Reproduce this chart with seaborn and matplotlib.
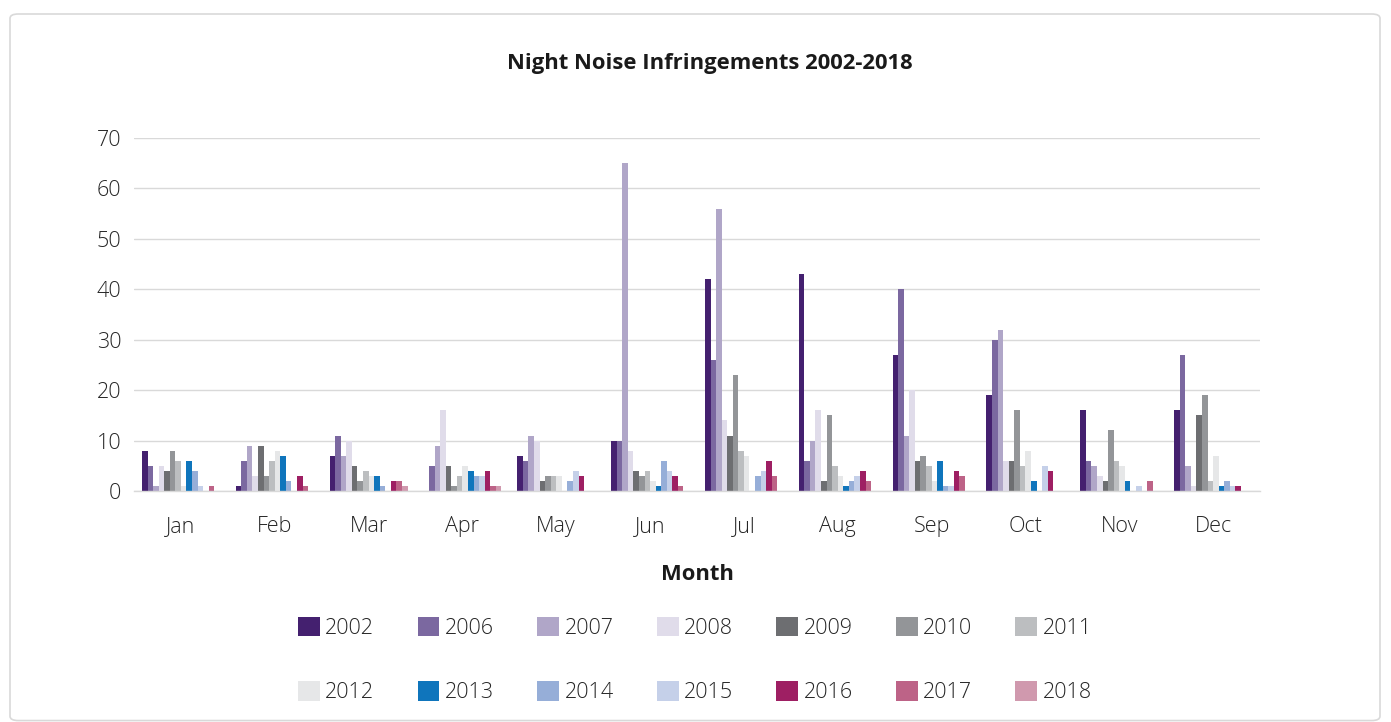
import matplotlib
matplotlib.use("Agg")
import matplotlib.pyplot as plt
import seaborn as sns
import pandas as pd
from matplotlib.patches import FancyBboxPatch

months = ["Jan", "Feb", "Mar", "Apr", "May", "Jun", "Jul", "Aug", "Sep", "Oct", "Nov", "Dec"]
years = ["2002", "2006", "2007", "2008", "2009", "2010", "2011",
         "2012", "2013", "2014", "2015", "2016", "2017", "2018"]

# values per year, Jan..Dec
v2002 = [8, 1, 7, 0, 7, 10, 42, 43, 27, 19, 16, 16]
v2006 = [5, 6, 11, 5, 6, 10, 26, 6, 40, 30, 6, 27]
v2007 = [1, 9, 7, 9, 11, 65, 56, 10, 11, 32, 5, 5]
v2008 = [5, 3, 10, 16, 10, 8, 14, 16, 20, 6, 3, 1]
v2009 = [4, 9, 5, 5, 2, 4, 11, 2, 6, 6, 2, 15]
v2010 = [8, 3, 2, 1, 3, 3, 23, 15, 7, 16, 12, 19]
v2011 = [6, 6, 4, 3, 3, 4, 8, 5, 5, 5, 6, 2]
v2012 = [1, 8, 3, 5, 3, 2, 7, 3, 2, 8, 5, 7]
v2013 = [6, 7, 3, 4, 0, 1, 0, 1, 6, 2, 2, 1]
v2014 = [4, 2, 1, 3, 2, 6, 3, 2, 1, 0, 0, 2]
v2015 = [1, 0, 0, 3, 4, 4, 4, 3, 1, 5, 1, 1]
v2016 = [0, 3, 2, 4, 3, 3, 6, 4, 4, 4, 0, 1]
v2017 = [1, 1, 2, 1, 0, 1, 3, 2, 3, 0, 2, 0]
v2018 = [0, 0, 1, 1, 0, 0, 0, 0, 0, 0, 0, 0]

series = [v2002, v2006, v2007, v2008, v2009, v2010, v2011,
          v2012, v2013, v2014, v2015, v2016, v2017, v2018]

colors = ["#44206F", "#7B68A0", "#B0A6C8", "#E0DCEA", "#6D6E71", "#939598", "#BCBEC0",
          "#E6E7E8", "#0F75BC", "#96AED8", "#C5D0E9", "#9E1F63", "#BD6387", "#D099AE"]

rows = []
for y, vals in zip(years, series):
    for m, v in zip(months, vals):
        rows.append({"Month": m, "Year": y, "Value": v})
df = pd.DataFrame(rows)

sns.set_theme(style="white")
plt.rcParams["font.family"] = ["Open Sans", "DejaVu Sans"]

W, H = 1391, 722
fig = plt.figure(figsize=(W / 100, H / 100), dpi=100)

# outer border
border = FancyBboxPatch((10 / W, 0.002), 1370 / W, 1 - 14 / H - 0.002,
                        boxstyle="round,pad=0,rounding_size=0.006",
                        transform=fig.transFigure, fill=False,
                        edgecolor="#D9D9D9", linewidth=1.2)
fig.patches.append(border)

x0, x1, ytop, ybot = 134, 1260, 138, 491
ax = fig.add_axes([x0 / W, 1 - ybot / H, (x1 - x0) / W, (ybot - ytop) / H])

sns.barplot(data=df, x="Month", y="Value", hue="Year", order=months,
            hue_order=years, palette=colors, width=0.83, gap=0,
            saturation=1, ax=ax, legend=True, errorbar=None, linewidth=0)

handles, labels = ax.get_legend_handles_labels()
ax.get_legend().remove()

ax.set_ylim(0, 70)
ax.set_xlim(-0.5, 11.5)
ax.set_yticks(range(0, 71, 10))
ax.yaxis.grid(True, color="#D9D9D9", linewidth=1)
ax.set_axisbelow(True)
for s in ["left", "right", "top"]:
    ax.spines[s].set_visible(False)
ax.spines["bottom"].set_color("#D9D9D9")
ax.spines["bottom"].set_linewidth(1)

ax.set_xticks([i - 0.5 for i in range(13)], minor=True)
ax.tick_params(axis="x", which="minor", length=29.5, width=1, color="#D9D9D9", direction="out")
ax.tick_params(axis="x", which="major", length=0, pad=18, labelsize=15.5, labelcolor="#262626")
ax.tick_params(axis="y", which="major", length=0, pad=9, labelsize=15.5, labelcolor="#262626")
for t in ax.get_xticklabels() + ax.get_yticklabels():
    t.set_fontweight("light")
ax.set_xlabel("")
ax.set_ylabel("")

fig.text(710 / W, 1 - 63 / H, "Night Noise Infringements 2002-2018", ha="center", va="center",
         fontsize=15.8, fontweight="bold", color="#1a1a1a")
fig.text(697 / W, 1 - 574 / H, "Month", ha="center", va="center",
         fontsize=15.8, fontweight="bold", color="#1a1a1a")

# reorder for row-major layout in a 2x7 legend
order = []
for c in range(7):
    order += [c, c + 7]
h2 = [handles[i] for i in order]
l2 = [labels[i] for i in order]
leg = fig.legend(h2, l2, ncol=7, loc="center", bbox_to_anchor=(695 / W, 1 - 660 / H),
                 frameon=False, fontsize=15.5, handlelength=1.02, handleheight=1.02,
                 handletextpad=0.25, columnspacing=2.0, labelspacing=1.95)
for t in leg.get_texts():
    t.set_color("#262626")
    t.set_fontweight("light")

fig.savefig("out.png", dpi=100)
